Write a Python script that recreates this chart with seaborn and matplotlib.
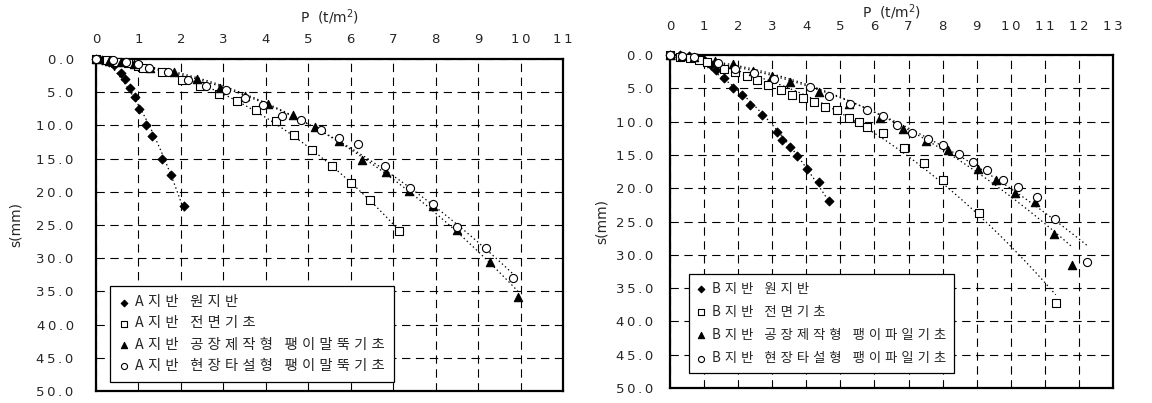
import numpy as np
import matplotlib
matplotlib.use('Agg')
import matplotlib.pyplot as plt
import seaborn as sns

# ---------------- data: A site (left) ----------------
PA1 = [0, 0.15, 0.3, 0.43, 0.58, 0.68, 0.8, 0.91, 1.02, 1.19, 1.32, 1.55, 1.76, 2.08]
SA1 = [0, 0.15, 0.4, 0.95, 2.1, 2.96, 4.37, 5.67, 7.53, 10.0, 11.6, 15.0, 17.4, 22.1]

PA2 = [0, 0.25, 0.5, 0.75, 1.0, 1.11, 1.55, 2.02, 2.45, 2.9, 3.33, 3.78, 4.23, 4.66, 5.1, 5.56, 6.01, 6.45, 7.13]
SA2 = [0, 0.2, 0.4, 0.6, 1.0, 1.35, 2.0, 3.1, 4.1, 5.2, 6.3, 7.7, 9.3, 11.4, 13.75, 16.1, 18.7, 21.3, 25.95]

PA3 = [0, 0.3, 0.6, 0.9, 1.27, 1.84, 2.37, 2.93, 3.51, 4.05, 4.63, 5.17, 5.73, 6.27, 6.82, 7.38, 7.94, 8.5, 9.29, 9.94]
SA3 = [0, 0.3, 0.5, 0.8, 1.35, 1.9, 3.0, 4.3, 5.6, 6.8, 8.5, 10.3, 12.4, 15.2, 17.0, 19.9, 22.1, 25.8, 30.6, 35.8]

PA4 = [0, 0.41, 0.7, 1.0, 1.25, 1.70, 2.17, 2.6, 3.06, 3.52, 3.94, 4.38, 4.84, 5.29, 5.72, 6.17, 6.81, 7.39, 7.94, 8.51, 9.18, 9.82]
SA4 = [0, 0.1, 0.4, 0.8, 1.3, 2.0, 3.2, 4.0, 4.7, 5.8, 6.9, 8.64, 9.24, 10.7, 11.9, 12.85, 16.16, 19.4, 21.9, 25.25, 28.4, 33.0]

# ---------------- data: B site (right) ----------------
PB1 = [0, 0.3, 0.55, 0.8, 1.0, 1.2, 1.35, 1.59, 1.86, 2.1, 2.36, 2.69, 3.13, 3.3, 3.52, 3.74, 4.01, 4.36, 4.68]
SB1 = [0, 0.05, 0.15, 0.4, 0.8, 1.5, 2.2, 3.5, 4.9, 6.0, 7.5, 9.0, 11.6, 12.7, 13.8, 15.1, 17.1, 19.1, 21.95]

PB2 = [0, 0.29, 0.6, 0.85, 1.08, 1.59, 1.91, 2.25, 2.56, 2.89, 3.26, 3.57, 3.9, 4.24, 4.56, 4.9, 5.24, 5.56, 5.78, 6.25, 6.88, 7.46, 8.0, 9.08, 11.32]
SB2 = [0, 0.25, 0.4, 0.7, 1.1, 2.16, 2.6, 3.2, 3.77, 4.57, 5.2, 6.0, 6.4, 7.1, 7.8, 8.3, 9.4, 10.1, 10.8, 11.7, 14.0, 16.2, 18.7, 23.7, 37.2]

PB3 = [0, 0.35, 0.7, 1.32, 1.86, 2.43, 2.99, 3.52, 4.38, 5.26, 6.15, 6.83, 7.52, 8.15, 9.04, 9.58, 10.13, 10.72, 11.26, 11.81]
SB3 = [0, 0.1, 0.3, 0.85, 1.4, 2.4, 3.1, 4.1, 5.6, 7.4, 9.45, 11.06, 12.9, 14.3, 17.1, 18.7, 20.65, 22.06, 26.9, 31.6]

PB4 = [0, 0.35, 0.7, 1.40, 1.91, 2.47, 3.04, 4.11, 4.66, 5.27, 5.78, 6.25, 6.66, 7.1, 7.56, 8.01, 8.47, 8.89, 9.3, 9.77, 10.22, 10.76, 11.31, 12.24]
SB4 = [0, 0.1, 0.3, 1.25, 2.16, 2.66, 3.56, 4.87, 6.17, 7.3, 8.3, 9.2, 10.55, 11.66, 12.56, 13.57, 14.8, 16.03, 17.3, 18.7, 19.8, 21.35, 24.56, 31.1]

LABELS_A = ['A지반 원지반', 'A지반 전면기초', 'A지반 공장제작형 팽이말뚝기초', 'A지반 현장타설형 팽이말뚝기초']
LABELS_B = ['B지반 원지반', 'B지반 전면기초', 'B지반 공장제작형 팽이파일기초', 'B지반 현장타설형 팽이파일기초']
X_LABEL = 'P  (t/m$^{2}$)'
Y_LABEL = 's(mm)'
Y_TICKS = [0, 5, 10, 15, 20, 25, 30, 35, 40, 45, 50]

# ---------------- style ----------------
sns.set_style('white')
plt.rcParams['font.family'] = ['Noto Sans CJK KR', 'DejaVu Sans']
plt.rcParams['lines.scale_dashes'] = False
plt.rcParams['mathtext.fontset'] = 'dejavusans'

MARKERS = [('D', 'black', 20), ('s', 'white', 32), ('^', 'black', 36), ('o', 'white', 34)]


def spaced(t, sep='\u2009'):
    return sep.join(t)


fig = plt.figure(figsize=(11.52, 4.03), dpi=100)
axL = fig.add_axes([0.0833, 0.0298, 0.4054, 0.8238])
axR = fig.add_axes([0.5816, 0.0372, 0.3845, 0.8263])


def draw(ax, data, labels, xmax, anchor, ytick_pad, xtick_pad, xlabelpad, ylabelpad,
         legfs, legsp, legpad):
    for (P, S), (mk, face, size), lab in zip(data, MARKERS, labels):
        P = np.asarray(P, float)
        S = np.asarray(S, float)
        coef = np.polyfit(P, S, 2)
        xx = np.linspace(0, P.max(), 120)
        ax.plot(xx, np.polyval(coef, xx), color='black', lw=0.9,
                linestyle=(0, (1.0, 2.0)), zorder=3)
        sns.scatterplot(x=P, y=S, marker=mk, s=size, color=face, edgecolor='black',
                        linewidth=0.8, ax=ax, label=spaced(lab, '\u2009\u200a'),
                        zorder=4, clip_on=False)
    ax.set_xlim(0, xmax)
    ax.set_ylim(50, 0)
    ax.set_xticks(range(xmax + 1))
    ax.set_xticklabels([spaced(str(i)) for i in range(xmax + 1)], family='DejaVu Sans')
    ax.set_yticks(Y_TICKS)
    ax.set_yticklabels([spaced(f'{v:.1f}') for v in Y_TICKS], family='DejaVu Sans')
    ax.xaxis.tick_top()
    ax.xaxis.set_label_position('top')
    ax.set_xlabel(X_LABEL, fontsize=10, labelpad=xlabelpad, family='DejaVu Sans')
    ax.set_ylabel(Y_LABEL, fontsize=10, labelpad=ylabelpad, family='DejaVu Sans')
    ax.tick_params(axis='y', length=0, labelsize=9.5, pad=ytick_pad)
    ax.tick_params(axis='x', length=0, labelsize=9.5, pad=xtick_pad)
    ax.set_axisbelow(True)
    ax.grid(True, color='black', lw=0.8, linestyle=(0, (6, 4)))
    for sp in ax.spines.values():
        sp.set_color('black')
        sp.set_linewidth(1.6)
        sp.set_visible(True)
    leg = ax.legend(loc='lower left', bbox_to_anchor=anchor, frameon=True, fancybox=False,
                    edgecolor='black', framealpha=1, fontsize=legfs, handlelength=0.6,
                    handletextpad=0.5, labelspacing=legsp, borderpad=legpad, markerscale=0.75,
                    borderaxespad=0)
    leg.get_frame().set_linewidth(0.9)
    leg.set_zorder(6)


draw(axL, [(PA1, SA1), (PA2, SA2), (PA3, SA3), (PA4, SA4)], LABELS_A, 11,
     (0.03, 0.027), 16, 9, 8, 10, 10.3, 0.5, 0.65)
draw(axR, [(PB1, SB1), (PB2, SB2), (PB3, SB3), (PB4, SB4)], LABELS_B, 13,
     (0.043, 0.045), 12, 16, 2, 5, 9.6, 0.68, 0.6)

fig.savefig('out.png', dpi=100)
